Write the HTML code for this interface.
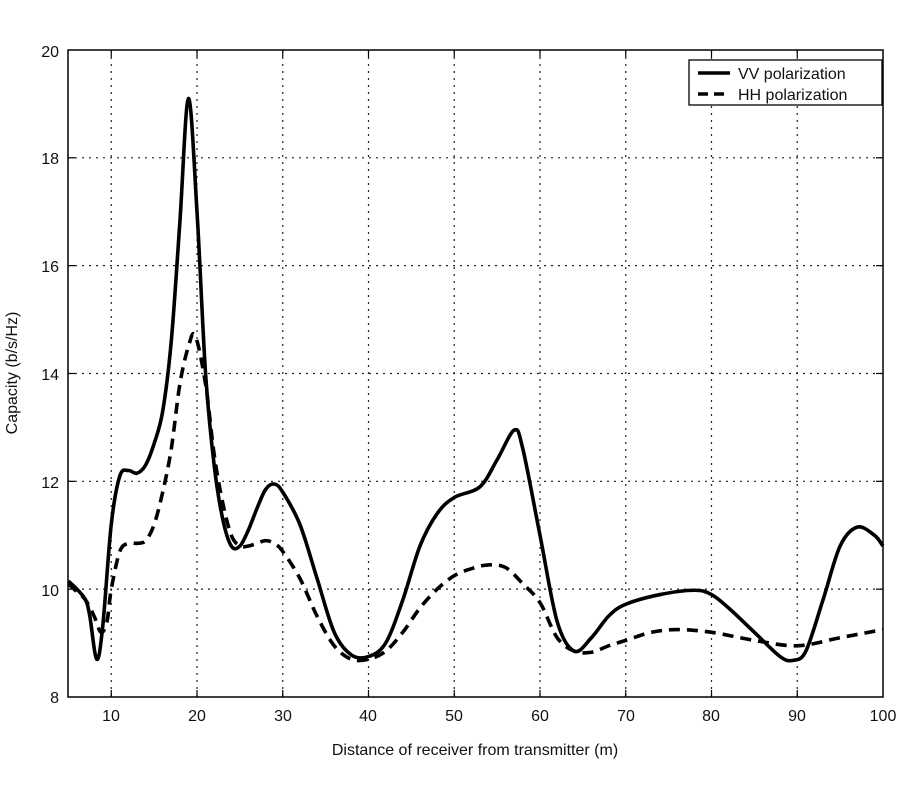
<!DOCTYPE html>
<html><head><meta charset="utf-8"><style>
body{margin:0;background:#fff;}
svg text{font-family:"Liberation Sans",sans-serif;fill:#111;}
</style></head><body>
<svg id="s" width="900" height="800" viewBox="0 0 900 800" xmlns="http://www.w3.org/2000/svg">
<g id="grid" stroke="#222" stroke-width="1.2" stroke-dasharray="2,5"></g>
<rect x="68" y="50" width="815" height="647" fill="none" stroke="#000" stroke-width="1.5"/>
<g id="ticks" stroke="#000" stroke-width="1.2"></g>
<g font-size="16" text-anchor="end">
<text x="59" y="703">8</text><text x="59" y="596">10</text><text x="59" y="488">12</text>
<text x="59" y="380">14</text><text x="59" y="272">16</text><text x="59" y="164">18</text><text x="59" y="57">20</text>
</g>
<g font-size="16" text-anchor="middle">
<text x="111" y="721">10</text><text x="197" y="721">20</text><text x="283" y="721">30</text>
<text x="368" y="721">40</text><text x="454" y="721">50</text><text x="540" y="721">60</text>
<text x="626" y="721">70</text><text x="711" y="721">80</text><text x="797" y="721">90</text><text x="883" y="721">100</text>
</g>
<text x="475" y="755" font-size="16" text-anchor="middle">Distance of receiver from transmitter (m)</text>
<text transform="translate(17,373) rotate(-90)" font-size="16" text-anchor="middle">Capacity (b/s/Hz)</text>
<path id="vv" fill="none" stroke="#000" stroke-width="3.6" stroke-linejoin="round"/>
<path id="hh" fill="none" stroke="#000" stroke-width="3.6" stroke-dasharray="11,7"/>
<rect x="689" y="60" width="193" height="45" fill="#fff" stroke="#000" stroke-width="1.3"/>
<line x1="698" y1="73" x2="730" y2="73" stroke="#000" stroke-width="3.6"/>
<line x1="698" y1="94" x2="730" y2="94" stroke="#000" stroke-width="3.6" stroke-dasharray="10,6"/>
<text x="738" y="79" font-size="16">VV polarization</text>
<text x="738" y="100" font-size="16">HH polarization</text>
</svg>
<script>
function X(v){return 197+(v-20)*8.575;}
function Y(v){return 697-(v-8)*53.92;}
var g=document.getElementById('grid'),t=document.getElementById('ticks'),ns='http://www.w3.org/2000/svg';
function L(p,a,b,c,d){var l=document.createElementNS(ns,'line');l.setAttribute('x1',a);l.setAttribute('y1',b);l.setAttribute('x2',c);l.setAttribute('y2',d);p.appendChild(l);}
for(var x=10;x<100;x+=10){L(g,X(x),50,X(x),697);L(t,X(x),697,X(x),690);L(t,X(x),50,X(x),57);}
for(var y=10;y<20;y+=2){L(g,68,Y(y),883,Y(y));L(t,68,Y(y),75,Y(y));L(t,883,Y(y),876,Y(y));}
function path(d){var p=d.map(function(a){return [X(a[0]),Y(a[1])];});var s='M'+p[0][0]+','+p[0][1];
for(var i=0;i<p.length-1;i++){var p0=p[i-1]||p[i],p1=p[i],p2=p[i+1],p3=p[i+2]||p2;
s+=' C'+(p1[0]+(p2[0]-p0[0])/6)+','+(p1[1]+(p2[1]-p0[1])/6)+' '+(p2[0]-(p3[0]-p1[0])/6)+','+(p2[1]-(p3[1]-p1[1])/6)+' '+p2[0]+','+p2[1];}return s;}
var vv=[[5,10.15],[6,10],[7,9.8],[7.5,9.5],[8.3,8.7],[9,9.3],[10,11.2],[11,12.1],[12,12.2],[13,12.15],[14,12.3],[15,12.7],[16,13.3],[17,14.6],[18,16.8],[19,19.1],[20,17],[21,14],[22,12.3],[23,11.3],[24,10.8],[25,10.8],[26,11.1],[27,11.5],[28,11.85],[29,11.95],[30,11.8],[32,11.2],[34,10.2],[36,9.2],[38,8.78],[40,8.75],[42,9.0],[44,9.8],[46,10.8],[48,11.4],[50,11.7],[53,11.9],[55,12.4],[57,12.95],[58,12.6],[60,11],[62,9.4],[64,8.85],[66,9.1],[68,9.5],[70,9.72],[74,9.9],[78,9.98],[80,9.9],[82,9.65],[85,9.2],[88,8.75],[89.5,8.68],[91,8.85],[93,9.8],[95,10.8],[97,11.15],[99,11],[100,10.8]];
var hh=[[5,10.1],[6,9.95],[7,9.8],[8,9.5],[8.8,9.2],[9.5,9.4],[10,10],[11,10.7],[12,10.85],[13,10.85],[14,10.9],[15,11.2],[16,11.8],[17,12.6],[18,13.8],[19,14.5],[19.8,14.7],[21,13.8],[22,12.5],[23,11.6],[24,11],[25,10.8],[26,10.8],[27,10.85],[28,10.9],[29,10.85],[30,10.7],[32,10.2],[34,9.5],[36,8.95],[38,8.7],[40,8.7],[42,8.85],[44,9.2],[46,9.65],[48,10],[50,10.25],[52,10.38],[54,10.45],[56,10.4],[58,10.1],[60,9.75],[62,9.1],[64,8.85],[66,8.83],[68,8.95],[70,9.05],[73,9.2],[76,9.25],[80,9.2],[85,9.05],[90,8.95],[95,9.1],[100,9.25]];
document.getElementById('vv').setAttribute('d',path(vv));
document.getElementById('hh').setAttribute('d',path(hh));
</script>
</body></html>
